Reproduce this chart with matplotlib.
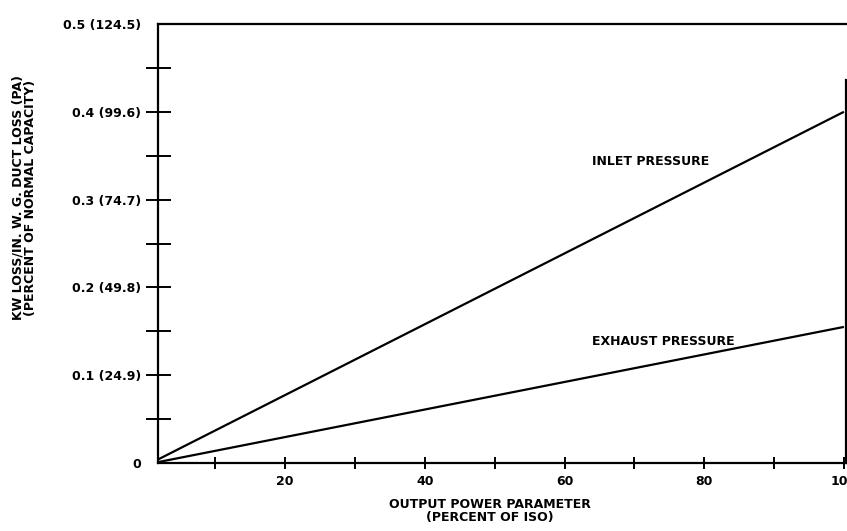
import matplotlib
matplotlib.use("Agg")
import matplotlib.pyplot as plt

# output power parameter (percent of ISO) and duct loss curves
power = [1.8, 100]
inlet_loss = [0.004, 0.40]
exhaust_loss = [0.001, 0.155]

x_major = [20, 40, 60, 80, 100]
x_minor = [10, 30, 50, 70, 90]
y_major = [0, 0.1, 0.2, 0.3, 0.4, 0.5]
y_labels = ["0", "0.1 (24.9)", "0.2 (49.8)", "0.3 (74.7)", "0.4 (99.6)", "0.5 (124.5)"]
y_minor = [0.05, 0.15, 0.25, 0.35, 0.45]

W, H = 847, 531
fig = plt.figure(figsize=(W / 100, H / 100), dpi=100)
ax = fig.add_axes([158 / W, (H - 463) / H, (846 - 158) / W, (463 - 24) / H])

ax.plot(power, inlet_loss, color="black", lw=1.6, solid_capstyle="butt")
ax.plot(power, exhaust_loss, color="black", lw=1.6, solid_capstyle="butt")

ax.set_xlim(1.8, 100.3)
ax.set_ylim(0, 0.5)

for side in ["left", "bottom", "top", "right"]:
    ax.spines[side].set_linewidth(1.6)
ax.spines["right"].set_bounds(0, 0.436)

font = dict(family="DejaVu Sans", weight="bold", size=9)

ax.set_xticks(x_major)
ax.set_xticklabels([str(v) for v in x_major], **font)
ax.set_xticks(x_minor, minor=True)
ax.set_yticks(y_major)
ax.set_yticklabels(y_labels, **font)
ax.set_yticks(y_minor, minor=True)

ax.tick_params(axis="x", which="both", direction="inout", length=9, width=1.4, pad=4)
ax.tick_params(axis="y", which="both", direction="inout", length=18, width=1.4, pad=3)

# no tick marks at the corners
for i in (0, len(y_major) - 1):
    ax.yaxis.get_major_ticks()[i].tick1line.set_visible(False)

ax.text(72.4, 0.343, "INLET PRESSURE", ha="center", va="center", **font)
ax.text(74.1, 0.138, "EXHAUST PRESSURE", ha="center", va="center", **font)

fig.text(490 / W, 1 - 505 / H, "OUTPUT POWER PARAMETER", ha="center", va="center", **font)
fig.text(490 / W, 1 - 517 / H, "(PERCENT OF ISO)", ha="center", va="center", **font)

fig.text(18 / W, 1 - 198 / H, "KW LOSS/IN. W. G. DUCT LOSS (PA)", rotation=90,
         ha="center", va="center", **font)
fig.text(31 / W, 1 - 198 / H, "(PERCENT OF NORMAL CAPACITY)", rotation=90,
         ha="center", va="center", **font)

fig.savefig("out.png", dpi=100)
